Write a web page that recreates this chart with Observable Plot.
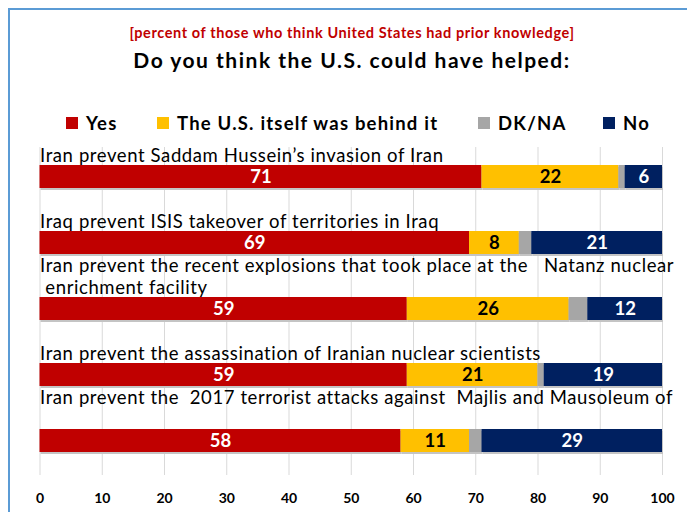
<!DOCTYPE html>
<html>
<head>
<meta charset="utf-8">
<script src="https://cdn.jsdelivr.net/npm/d3@7"></script>
<script src="https://cdn.jsdelivr.net/npm/@observablehq/plot@0.6"></script>
<style>
  html, body { margin: 0; padding: 0; background: #fff; }
  body { width: 687px; height: 512px; overflow: hidden; position: relative; font-family: Lato, "Open Sans", sans-serif; }
  #frame { position: absolute; left: 8px; top: 8px; width: 720px; height: 560px; border: 2px solid #5B9BD5; box-sizing: border-box; }
  #sub { position: absolute; left: 0; width: 704px; top: 24px; text-align: center; color: #C00000; font-weight: bold; font-size: 14.5px; letter-spacing: 0.6px; }
  #title { position: absolute; left: 0; width: 704px; top: 47px; text-align: center; color: #000; font-weight: bold; font-size: 21px; letter-spacing: 1.5px; }
  .leg { position: absolute; top: 111px; font-weight: bold; font-size: 18.5px; color: #000; white-space: nowrap; letter-spacing: 1.2px; line-height: 24px; }
  .sw { position: absolute; left: 0; top: 6px; width: 12px; height: 12px; }
  .lt { position: absolute; left: 20px; top: 0; }
  #chart { position: absolute; left: 0; top: 140px; }
</style>
</head>
<body>
<div id="frame"></div>
<div id="sub"></div>
<div id="title"></div>
<div id="legend"></div>
<div id="chart"></div>
<script>
const subtitle = "[percent of those who think United States had prior knowledge]";
const title = "Do you think the U.S. could have helped:";
const categories = [
  "Iran prevent Saddam Hussein\u2019s invasion of Iran",
  "Iraq prevent ISIS takeover of territories in Iraq",
  "Iran prevent the recent explosions that took place at the   Natanz nuclear\n enrichment facility",
  "Iran prevent the assassination of Iranian nuclear scientists",
  "Iran prevent the  2017 terrorist attacks against  Majlis and Mausoleum of\n"
];
const seriesNames = ["Yes", "The U.S. itself was behind it", "DK/NA", "No"];
const seriesColors = ["#C00000", "#FFC000", "#A6A6A6", "#002060"];
const yes = [71, 69, 59, 59, 58];
const usBehind = [22, 8, 26, 21, 11];
const dkna = [1, 2, 3, 1, 2];
const no = [6, 21, 12, 19, 29];
const xTicks = [0, 10, 20, 30, 40, 50, 60, 70, 80, 90, 100];

document.getElementById("sub").textContent = subtitle;
document.getElementById("title").textContent = title;
const legendLefts = [66, 157, 478, 603];
const legend = document.getElementById("legend");
seriesNames.forEach((s, i) => {
  const d = document.createElement("div");
  d.className = "leg";
  d.style.left = legendLefts[i] + "px";
  d.innerHTML = `<span class="sw" style="background:${seriesColors[i]}"></span>`;
  const t = document.createElement("span");
  t.className = "lt";
  t.textContent = s;
  d.appendChild(t);
  legend.appendChild(d);
});

const seriesValues = [yes, usBehind, dkna, no];
const rows = [];
seriesNames.forEach((s, si) => {
  categories.forEach((c, ci) => rows.push({cat: c, series: s, value: seriesValues[si][ci]}));
});

const stackOpts = (extra) => Plot.stackX({x: "value", y: "cat", z: "series", order: seriesNames, ...extra});

const chart = Plot.plot({
  width: 687,
  height: 372,
  marginLeft: 39.5,
  marginRight: 25,
  marginTop: 7,
  marginBottom: 37,
  style: {fontFamily: "Lato, 'Open Sans', sans-serif", background: "transparent"},
  x: {domain: [0, 100], axis: null},
  y: {domain: categories, axis: null, paddingInner: 0.655, paddingOuter: 0.292, align: 0.436},
  color: {domain: seriesNames, range: seriesColors},
  marks: [
    Plot.gridX(xTicks, {stroke: "#d9d9d9", strokeOpacity: 1}),
    Plot.axisX({ticks: xTicks, label: null, tickSize: 0, tickPadding: 18, fontSize: 14, fontWeight: "bold", color: "#000"}),
    Plot.barX(rows, stackOpts({fill: "#c4c4c4", dx: 1, dy: 2})),
    Plot.barX(rows, stackOpts({fill: "series"})),
    Plot.text(rows, stackOpts({
      text: d => (d.series === "Yes" || d.series === "No") ? d.value : null,
      fill: "white", fontWeight: "bold", fontSize: 18.5
    })),
    Plot.text(rows, stackOpts({
      text: d => d.series === "The U.S. itself was behind it" ? d.value : null,
      fill: "black", fontWeight: "bold", fontSize: 18.5
    })),
    Plot.text(categories, {
      x: () => 0, y: d => d, text: d => d,
      textAnchor: "start", lineAnchor: "bottom", lineHeight: 1.19,
      dy: -15, fontSize: 18.5, fill: "black"
    })
  ]
});
chart.querySelectorAll("text").forEach(t => t.setAttribute("xml:space", "preserve"));
chart.style.whiteSpace = "pre";
const labelTexts = chart.querySelectorAll("g[aria-label='text']");
labelTexts[labelTexts.length - 1].setAttribute("letter-spacing", "0.6");
document.getElementById("chart").appendChild(chart);
</script>
</body>
</html>
